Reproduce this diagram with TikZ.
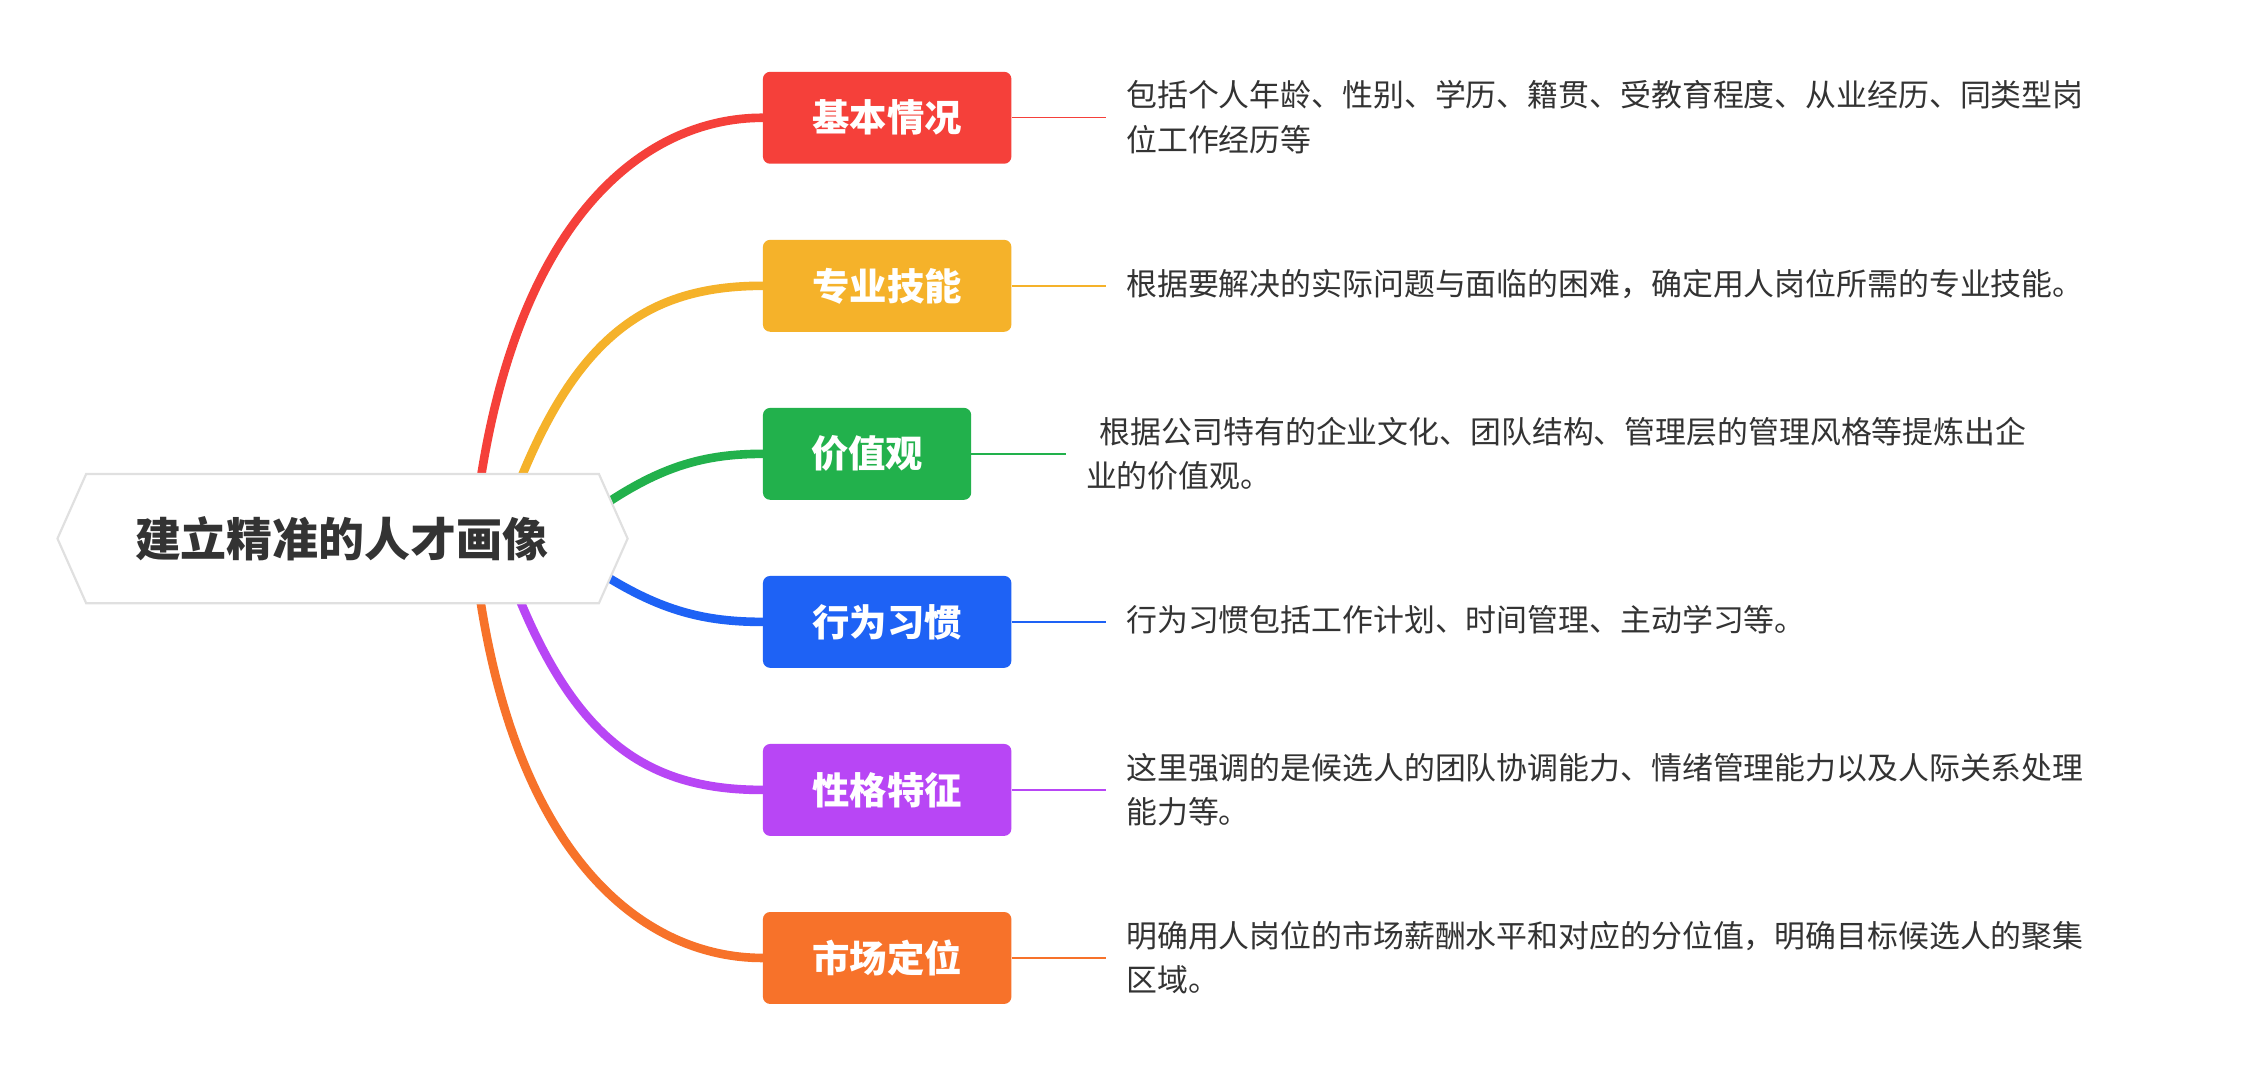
\documentclass[tikz,border=0pt]{standalone}
\usepackage{fontspec}
\setmainfont{Noto Sans CJK SC}
\begin{document}
\begin{tikzpicture}[x=1pt,y=-1pt]
\definecolor{cr}{HTML}{F5403A}\definecolor{cy}{HTML}{F5B22A}\definecolor{cg}{HTML}{22B14C}
\definecolor{cb}{HTML}{1E62F5}\definecolor{cp}{HTML}{B846F5}\definecolor{co}{HTML}{F7722A}
\definecolor{txt}{HTML}{333333}
\tikzset{lbl/.style={fill=#1,rounded corners=5pt,minimum height=64pt,text=white,font=\fontsize{26}{30}\selectfont\bfseries,inner xsep=0pt,anchor=west},
branch/.style={draw=#1,line width=6pt,line cap=round},
conn/.style={draw=#1,line width=1pt},
desc/.style={anchor=north west,align=left,text=txt,font=\fontsize{21.5}{31}\selectfont,inner sep=0pt}}
\useasboundingbox (0,0) rectangle (1568,752);
\fill[white] (0,0) rectangle (1568,752);
\node[lbl=cr,minimum width=173pt] (a) at (531,82) {基本情况};
\node[lbl=cy,minimum width=173pt] (b) at (531,199) {专业技能};
\node[lbl=cg,minimum width=145pt] (c) at (531,316) {价值观};
\node[lbl=cb,minimum width=173pt] (d) at (531,433) {行为习惯};
\node[lbl=cp,minimum width=173pt] (e) at (531,550) {性格特征};
\node[lbl=co,minimum width=173pt] (f) at (531,667) {市场定位};
\coordinate (sa) at (333,345);\coordinate (sb) at (358,345);\coordinate (sc) at (420,352);
\coordinate (sd) at (420,400);\coordinate (se) at (358,408);\coordinate (sf) at (333,408);
\draw[branch=cr] (sa) .. controls (360,150) and (450,82) .. (a.west);
\draw[branch=cy] (sb) .. controls (400,235) and (450,199) .. (b.west);
\draw[branch=cg] (sc) .. controls (460,325) and (490,316) .. (c.west);
\draw[branch=cb] (sd) .. controls (460,425) and (490,433) .. (d.west);
\draw[branch=cp] (se) .. controls (400,515) and (450,550) .. (e.west);
\draw[branch=co] (sf) .. controls (360,600) and (450,667) .. (f.west);
\coordinate (p1) at (40,375);\coordinate (p2) at (60,330);\coordinate (p3) at (417,330);
\coordinate (p4) at (437,375);\coordinate (p5) at (417,420);\coordinate (p6) at (60,420);
\draw[fill=white,draw=black!12,line width=1.5pt] (p1)--(p2)--(p3)--(p4)--(p5)--(p6)--cycle;
\node[text=txt,font=\fontsize{32}{36}\selectfont\bfseries] (m) at (238,375) {建立精准的人才画像};
\coordinate (ea) at (770,82);\coordinate (eb) at (770,199);\coordinate (ec) at (742,316);
\coordinate (ed) at (770,433);\coordinate (ee) at (770,550);\coordinate (ef) at (770,667);
\draw[conn=cr] (a.east)--(ea);\draw[conn=cy] (b.east)--(eb);\draw[conn=cg] (c.east)--(ec);
\draw[conn=cb] (d.east)--(ed);\draw[conn=cp] (e.east)--(ee);\draw[conn=co] (f.east)--(ef);
\node[desc] (ta) at (784,56) {包括个人年龄、性别、学历、籍贯、受教育程度、从业经历、同类型岗\\位工作经历等};
\node[desc] (tb) at (784,187) {根据要解决的实际问题与面临的困难，确定用人岗位所需的专业技能。};
\node[desc] (tc) at (756,290) {\ \ 根据公司特有的企业文化、团队结构、管理层的管理风格等提炼出企\\业的价值观。};
\node[desc] (td) at (784,421) {行为习惯包括工作计划、时间管理、主动学习等。};
\node[desc] (te) at (784,524) {这里强调的是候选人的团队协调能力、情绪管理能力以及人际关系处理\\能力等。};
\node[desc] (tf) at (784,641) {明确用人岗位的市场薪酬水平和对应的分位值，明确目标候选人的聚集\\区域。};
\end{tikzpicture}
\end{document}
